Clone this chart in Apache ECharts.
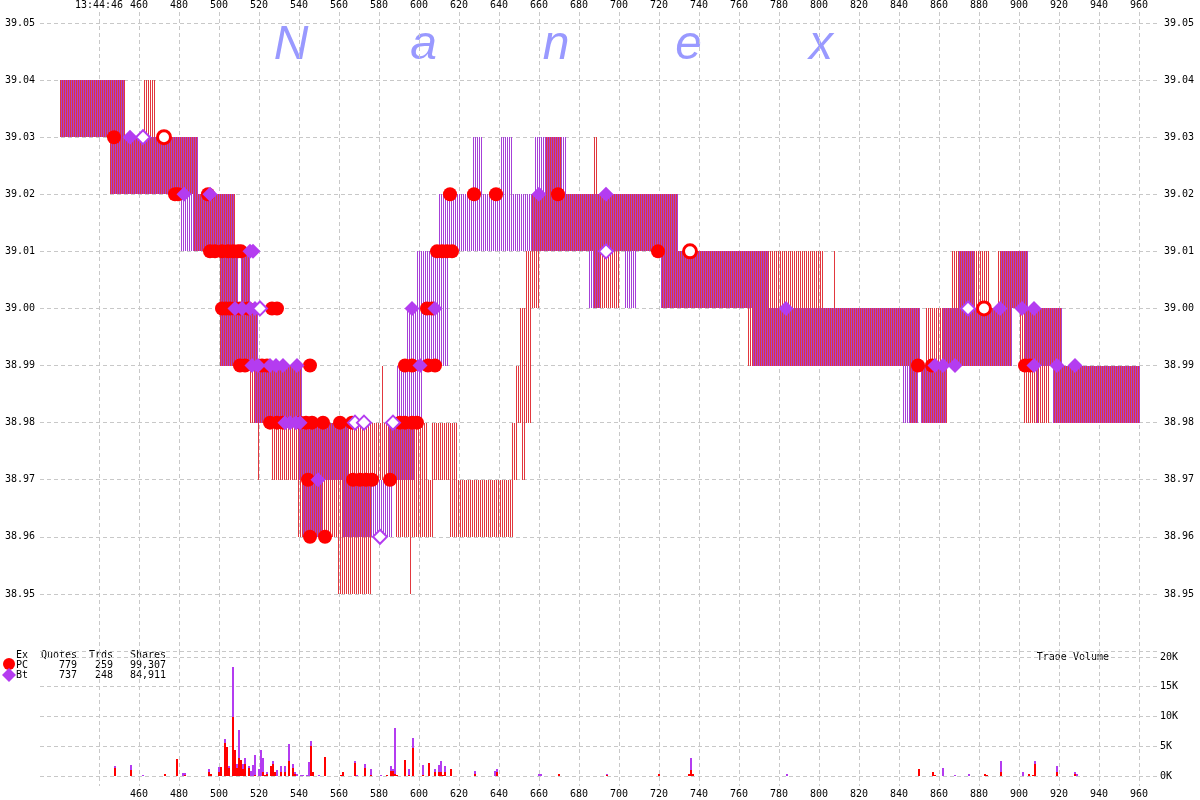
<!DOCTYPE html>
<html>
<head>
<meta charset="utf-8">
<script src="https://cdn.jsdelivr.net/npm/echarts@6/dist/echarts.min.js"></script>
<style>html,body{margin:0;padding:0;background:#fff}#c{width:1200px;height:800px}</style>
</head>
<body>
<div id="c"></div>
<script>
// ---------- data ----------
// quote blocks per exchange: [startTime, endTime, bid, ask]
const pcQuotes = [
  [420.5,453,39.03,39.04],[462.5,468,39.03,39.04],[445.5,489.5,39.02,39.03],
  [487,508,39.01,39.02],[500.5,509.5,39.00,39.01],[511,515.5,39.00,39.01],
  [500.5,519.5,38.99,39.00],[515.5,541.5,38.98,38.99],[519,520,38.97,38.98],
  [526.5,584.5,38.97,38.98],[584.5,604,38.97,38.98],[606.5,619,38.97,38.98],
  [539.5,576,38.96,38.97],[559.5,576,38.95,38.96],[581.5,582,38.97,38.99],
  [588.5,607,38.96,38.97],[615.5,647,38.96,38.97],[595.5,596,38.95,38.96],
  [646.5,649,38.97,38.98],[651.5,653,38.97,38.98],[648.5,656,38.98,38.99],
  [650.5,656,38.99,39.00],[653.5,660,39.00,39.01],[656.5,729.5,39.01,39.02],
  [663.5,671.5,39.02,39.03],[687.5,689,39.02,39.03],[687,700.5,39.00,39.01],
  [721,802,39.00,39.01],[807,808,39.00,39.01],[866.5,885,39.00,39.01],
  [889.5,904,39.00,39.01],[764.5,850.5,38.99,39.00],[853.5,896.5,38.99,39.00],
  [900.5,921.5,38.99,39.00],[845.5,849.5,38.98,38.99],[851,864,38.98,38.99],
  [902.5,909,38.98,38.99],[909.5,915.5,38.98,38.99],[917,960.5,38.98,38.99]
];
const btQuotes = [
  [420.5,453,39.03,39.04],[445.5,489.5,39.02,39.03],[481,508,39.01,39.02],
  [500.5,509.5,39.00,39.01],[511,515.5,39.00,39.01],[500.5,519.5,38.99,39.00],
  [517.5,541.5,38.98,38.99],[539.5,564.5,38.97,38.98],[542,551.5,38.96,38.97],
  [562,576,38.96,38.97],[576,586.5,38.96,38.97],[584.5,597.5,38.97,38.98],
  [589,602,38.98,38.99],[594,598.5,38.99,39.00],[598.5,614.5,38.99,39.01],
  [610,729.5,39.01,39.02],[627,631.5,39.02,39.03],[641,646.5,39.02,39.03],
  [658,673.5,39.02,39.03],[685,690.5,39.00,39.01],[703,708.5,39.00,39.01],
  [721,775,39.00,39.01],[869.5,878,39.00,39.01],[891,904.5,39.00,39.01],
  [767,850.5,38.99,39.00],[861.5,897,38.99,39.00],[903,921.5,38.99,39.00],
  [842,849.5,38.98,38.99],[851,864,38.98,38.99],[909,909.5,38.98,38.99],
  [917,960.5,38.98,38.99]
];
// trades: [time, price]
const pcTrades = [
  [447.5,39.03],[478,39.02],[479.5,39.02],[494.5,39.02],
  [495.5,39.01],[498,39.01],[501.5,39.01],[504.5,39.01],[507,39.01],[509.5,39.01],[511,39.01],
  [501.5,39.00],[503.5,39.00],[505.5,39.00],[508,39.00],[510.5,39.00],[514.5,39.00],[526.5,39.00],[529,39.00],
  [510.5,38.99],[513,38.99],[521.5,38.99],[524,38.99],[545.5,38.99],
  [525.5,38.98],[529,38.98],[532,38.98],[540.5,38.98],[543.5,38.98],[546.5,38.98],[552,38.98],[560.5,38.98],[566.5,38.98],
  [590.5,38.98],[593,38.98],[596.5,38.98],[599,38.98],
  [544.5,38.97],[567,38.97],[570.5,38.97],[573.5,38.97],[576.5,38.97],[585.5,38.97],
  [545.5,38.96],[553,38.96],
  [593,38.99],[596.5,38.99],[604.5,38.99],[608,38.99],
  [604,39.00],[606.5,39.00],
  [609,39.01],[611.5,39.01],[614,39.01],[616.5,39.01],
  [615.5,39.02],[627.5,39.02],[638.5,39.02],[669.5,39.02],
  [719.5,39.01],[849.5,38.99],[856.5,38.99],[903,38.99],[905.5,38.99]
];
const pcTradesOdd = [[472.5,39.03],[735.5,39.01],[882.5,39.00]];
const btTrades = [
  [455.5,39.03],[482.5,39.02],[495.5,39.02],[515.5,39.01],[517,39.01],
  [508,39.00],[511.5,39.00],[515.5,39.00],[518,39.00],
  [516.5,38.99],[519.5,38.99],[525.5,38.99],[528.5,38.99],[532,38.99],[539,38.99],
  [533,38.98],[535.5,38.98],[538.5,38.98],[540.5,38.98],
  [549.5,38.97],[600.5,38.99],[596.5,39.00],[608,39.00],
  [660,39.02],[693.5,39.02],[783.5,39.00],[890.5,39.00],[901.5,39.00],[907.5,39.00],
  [858,38.99],[862,38.99],[868,38.99],[907.5,38.99],[919,38.99],[928,38.99]
];
const btTradesOdd = [[462,39.03],[520.5,39.00],[568,38.98],[572.5,38.98],[587,38.98],[580.5,38.96],[693.5,39.01],[874.5,39.00]];
// trade volume per time bucket
const volT  = [448,456,462,473,479,482,483,495,496,500,501,503,504,505,507,508,509,510,511,512,513,515,516,517,518,520,521,522,523,524,526,527,528,529,531,533,535,537,538,539,541,542,544,545,546,547,550,553,561,562,568,569,573,576,581,584,586,587,588,589,593,595,597,602,605,608,610,611,612,613,616,628,638,639,660,661,670,694,720,735,736,737,784,850,857,858,862,868,875,883,884,891,902,905,907,908,919,928,929];
const volPC = [1300,1000,0,400,2900,0,200,700,400,700,1500,5600,4800,1300,9900,4300,1300,3000,2700,1200,2100,1300,0,0,200,0,0,700,200,300,1600,2100,600,0,700,700,2600,1300,300,0,0,0,0,0,5100,700,0,3200,200,700,2200,0,1400,200,0,200,800,800,400,200,2700,200,4700,200,2200,700,700,700,200,700,1200,400,0,600,0,0,300,100,400,300,1000,300,0,1100,700,100,0,0,0,400,200,600,0,400,100,2100,700,300,0];
const volBt = [400,800,200,0,0,500,300,500,0,800,0,600,0,400,8500,0,800,4800,0,900,900,400,900,1800,3400,1200,4300,2400,0,300,0,500,0,1000,900,900,2700,800,400,400,200,100,100,2400,800,0,200,0,0,0,300,100,700,1000,200,0,900,300,7600,0,0,900,1700,1600,0,500,1100,1900,0,1000,0,500,900,500,300,300,0,300,0,0,2000,0,300,100,0,0,1400,100,300,0,0,2000,700,0,0,500,1000,400,300];
const xTicks = [440,460,480,500,520,540,560,580,600,620,640,660,680,700,720,740,760,780,800,820,840,860,880,900,920,940,960];
const xLabelsBottom = xTicks.slice(1);
const priceTicks = [38.94,38.95,38.96,38.97,38.98,38.99,39.00,39.01,39.02,39.03,39.04,39.05];
const priceLabels = priceTicks.slice(1);
const volTicks = [0,5000,10000,15000,20000];
const startTimeLabel = '13:44:46';
const legendRows = [['Ex','Quotes','Trds','Shares'],['PC','779','259','99,307'],['Bt','737','248','84,911']];
const watermark = ['N','a','n','e','x'];

// ---------- styles ----------
const RED = '#e2383e', PURPLE = '#a640d8', TRADE_RED = '#ff0000', TRADE_PURPLE = '#b43cf0';
function stripe(color, offset) {
  const c = document.createElement('canvas');
  c.width = 2; c.height = 1;
  const g = c.getContext('2d');
  g.fillStyle = color; g.fillRect(offset, 0, 1, 1);
  return {image: c, repeat: 'repeat'};
}
const redPat = stripe(RED, 0), purplePat = stripe(PURPLE, 1);
const MONO = 'DejaVu Sans Mono';
const gridLine = {show: true, lineStyle: {color: '#c8c8c8', type: [4, 3], width: 1}};

function quoteSeries(name, data, pat) {
  return {
    type: 'custom', name, xAxisIndex: 0, yAxisIndex: 0, data, z: 1, silent: true,
    encode: {x: [0, 1], y: [2, 3]},
    renderItem: (params, api) => {
      const a = api.coord([api.value(0), api.value(3)]);
      const b = api.coord([api.value(1), api.value(2)]);
      const x0 = Math.round(a[0]), x1 = Math.max(Math.round(b[0]), x0 + 1);
      const y0 = Math.round(a[1]), y1 = Math.round(b[1]);
      return {type: 'rect', shape: {x: x0, y: y0, width: x1 - x0, height: y1 - y0}, style: {fill: pat}};
    }
  };
}
function tradeSeries(data, symbol, size, fill, border, bw, z) {
  return {type: 'scatter', xAxisIndex: 0, yAxisIndex: 0, data, symbol, symbolSize: size, z,
    itemStyle: {color: fill, borderColor: border, borderWidth: bw, opacity: 1}, silent: true};
}
const volumeData = volT.map((t, i) => [t, volPC[i], volBt[i]]);
const volumeSeries = {
  type: 'custom', name: 'Trade Volume', xAxisIndex: 1, yAxisIndex: 2, data: volumeData, z: 2, silent: true,
  encode: {x: 0, y: [1, 2]},
  renderItem: (params, api) => {
    const t = api.value(0), pc = api.value(1), bt = api.value(2);
    const base = api.coord([t - 0.5, 0]);
    const mid = api.coord([t + 0.5, pc]);
    const top = api.coord([t + 0.5, pc + bt]);
    const x0 = Math.round(base[0]), x1 = Math.round(mid[0]);
    const y0 = Math.round(base[1]), ym = Math.round(mid[1]), yt = Math.round(top[1]);
    const kids = [];
    if (pc > 0) kids.push({type: 'rect', shape: {x: x0, y: ym, width: x1 - x0, height: y0 - ym}, style: {fill: TRADE_RED}});
    if (bt > 0) kids.push({type: 'rect', shape: {x: x0, y: yt, width: x1 - x0, height: ym - yt}, style: {fill: TRADE_PURPLE}});
    return {type: 'group', children: kids};
  }
};

const graphics = [];
watermark.forEach((ch, i) => {
  graphics.push({type: 'text', x: 291 + i * 132.5, y: 46, style: {text: ch, fill: '#9999ff',
    font: 'italic 48px "Liberation Sans"', textAlign: 'center', textVerticalAlign: 'middle'}});
});
const colRight = [28, 77, 113, 166];
legendRows.forEach((row, r) => {
  row.forEach((t, cI) => {
    graphics.push({type: 'text', x: colRight[cI], y: 655 + r * 10, style: {text: t, fill: '#000',
      font: '10px "' + MONO + '"', textAlign: 'right', textVerticalAlign: 'middle'}});
  });
});
graphics.push({type: 'circle', shape: {cx: 9, cy: 664, r: 6}, style: {fill: TRADE_RED}});
graphics.push({type: 'polygon', shape: {points: [[9, 668], [16, 675], [9, 682], [2, 675]]}, style: {fill: TRADE_PURPLE}});
graphics.push({type: 'text', x: 1109, y: 657, style: {text: 'Trade Volume', fill: '#000',
  font: '10px "' + MONO + '"', textAlign: 'right', textVerticalAlign: 'middle'}});

const PMIN = 38.94, PMAX = 39.05 + 11 / 5709;
const option = {
  animation: false,
  backgroundColor: '#fff',
  textStyle: {fontFamily: MONO},
  grid: [
    {left: 40, width: 1120, top: 12, height: 639},
    {left: 40, width: 1120, top: 651, height: 135}
  ],
  xAxis: [
    {type: 'value', gridIndex: 0, position: 'top', min: 410.5, max: 970.5,
      axisLine: {show: false}, axisTick: {show: false, customValues: xTicks},
      axisLabel: {customValues: xTicks, margin: 2, fontSize: 10, fontFamily: MONO, color: '#000',
        formatter: v => (v === 440 ? startTimeLabel : String(v))},
      splitLine: gridLine},
    {type: 'value', gridIndex: 1, position: 'bottom', min: 410.5, max: 970.5,
      axisLine: {show: false}, axisTick: {show: false, customValues: xTicks},
      axisLabel: {customValues: xLabelsBottom, margin: 3, fontSize: 10, fontFamily: MONO, color: '#000'},
      splitLine: gridLine}
  ],
  yAxis: [
    {type: 'value', gridIndex: 0, position: 'left', min: PMIN, max: PMAX,
      axisLine: {show: false}, axisTick: {show: false, customValues: priceTicks},
      axisLabel: {customValues: priceLabels, margin: 5, fontSize: 10, fontFamily: MONO, color: '#000',
        formatter: v => v.toFixed(2)},
      splitLine: gridLine},
    {type: 'value', gridIndex: 0, position: 'right', min: PMIN, max: PMAX,
      axisLine: {show: false}, axisTick: {show: false, customValues: priceTicks},
      axisLabel: {customValues: priceLabels, margin: 4, fontSize: 10, fontFamily: MONO, color: '#000',
        formatter: v => v.toFixed(2)},
      splitLine: {show: false}},
    {type: 'value', gridIndex: 1, position: 'right', min: -1681, max: 21008,
      axisLine: {show: false}, axisTick: {show: false, customValues: volTicks},
      axisLabel: {customValues: volTicks, margin: 0, fontSize: 10, fontFamily: MONO, color: '#000',
        formatter: v => (v / 1000) + 'K'},
      splitLine: gridLine}
  ],
  series: [
    quoteSeries('PC quotes', pcQuotes, redPat),
    quoteSeries('Bt quotes', btQuotes, purplePat),
    tradeSeries(pcTrades, 'circle', 14, TRADE_RED, TRADE_RED, 0, 3),
    tradeSeries(pcTradesOdd, 'circle', 13, '#fff', TRADE_RED, 3, 3),
    tradeSeries(btTrades, 'diamond', 15, TRADE_PURPLE, TRADE_PURPLE, 0, 4),
    tradeSeries(btTradesOdd, 'diamond', 14, '#fff', TRADE_PURPLE, 2, 4),
    volumeSeries
  ],
  graphic: graphics
};
const chart = echarts.init(document.getElementById('c'), null, {renderer: 'canvas'});
chart.setOption(option);
</script>
</body>
</html>
